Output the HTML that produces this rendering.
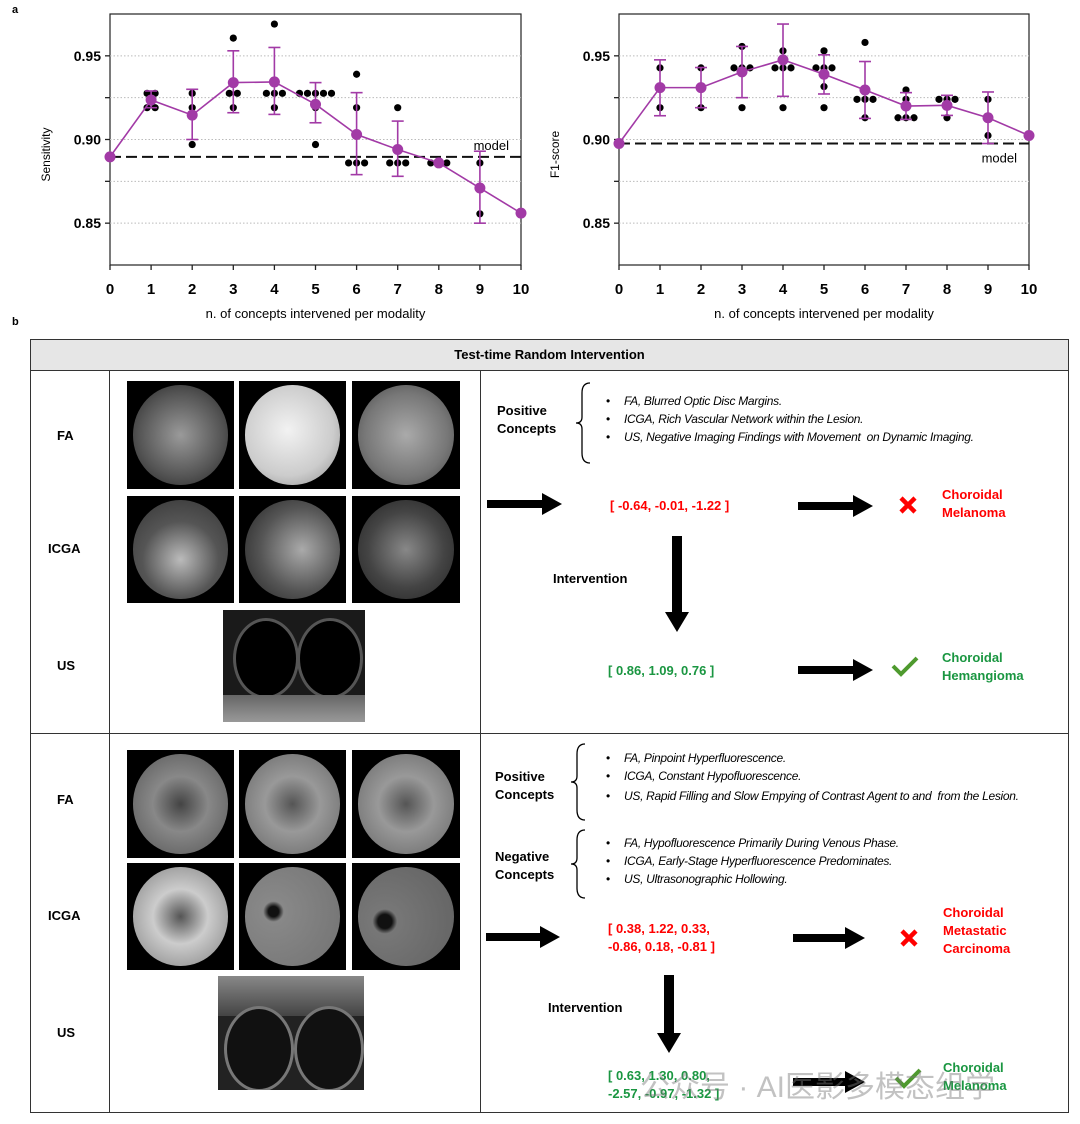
<!DOCTYPE html>
<html><head><meta charset="utf-8">
<style>
body{margin:0;background:#fff;font-family:"Liberation Sans",Arial,sans-serif;}
#page{position:relative;width:1080px;height:1124px;overflow:hidden;background:#fff;}
.abs{position:absolute;}
.img{position:absolute;background:#000;overflow:hidden;}
.img .c{position:absolute;left:6%;top:4%;width:88%;height:92%;border-radius:50%;}
.lbl{position:absolute;font-weight:bold;font-size:13px;}
.bl{position:absolute;font-style:italic;font-size:12px;letter-spacing:-0.3px;}
.bl:before{content:"•";position:absolute;left:-18px;font-style:normal;}
</style></head>
<body><div id="page">
<div class="abs" style="left:12px;top:4px;font-weight:bold;font-size:11px">a</div>
<div class="abs" style="left:12px;top:316px;font-weight:bold;font-size:11px">b</div>
<svg id="c1" class="abs" style="left:0;top:0" width="540" height="330"></svg>
<svg id="c2" class="abs" style="left:530px;top:0" width="550" height="330"></svg>

<div class="abs" style="left:30px;top:339px;width:1037px;height:772px;border:1px solid #333;"></div>
<div class="abs" style="left:31px;top:340px;width:1037px;height:30px;background:#e6e6e6;border-bottom:1px solid #333;text-align:center;line-height:30px;font-weight:bold;font-size:13px">Test-time Random Intervention</div>
<div class="abs" style="left:109px;top:371px;width:1px;height:741px;background:#333"></div>
<div class="abs" style="left:480px;top:371px;width:1px;height:741px;background:#333"></div>
<div class="abs" style="left:31px;top:733px;width:1037px;height:1px;background:#333"></div>

<div class="lbl" style="left:57px;top:428px">FA</div>
<div class="lbl" style="left:48px;top:541px">ICGA</div>
<div class="lbl" style="left:57px;top:658px">US</div>
<div class="lbl" style="left:57px;top:792px">FA</div>
<div class="lbl" style="left:48px;top:908px">ICGA</div>
<div class="lbl" style="left:57px;top:1025px">US</div>

<div class="img" style="left:127px;top:381px;width:107px;height:108px"><div class="c" style="background:radial-gradient(circle at 50% 50%,#9a9a9a,#555 60%,#222)"></div></div>
<div class="img" style="left:239px;top:381px;width:107px;height:108px"><div class="c" style="background:radial-gradient(circle at 45% 45%,#f2f2f2,#ccc 60%,#888)"></div></div>
<div class="img" style="left:352px;top:381px;width:108px;height:108px"><div class="c" style="background:radial-gradient(circle at 50% 50%,#aaa,#777 60%,#444)"></div></div>
<div class="img" style="left:127px;top:496px;width:107px;height:107px"><div class="c" style="background:radial-gradient(circle at 50% 60%,#bbb,#555 50%,#333)"></div></div>
<div class="img" style="left:239px;top:496px;width:107px;height:107px"><div class="c" style="background:radial-gradient(circle at 60% 50%,#aaa,#555 55%,#222)"></div></div>
<div class="img" style="left:352px;top:496px;width:108px;height:107px"><div class="c" style="background:radial-gradient(circle at 50% 50%,#888,#444 55%,#222)"></div></div>
<div class="abs" style="left:223px;top:610px;width:142px;height:112px;background:#1a1a1a;overflow:hidden">
<div class="abs" style="left:10px;top:8px;width:60px;height:75px;border-radius:50%;background:#000;border:3px solid #555"></div>
<div class="abs" style="left:74px;top:8px;width:60px;height:75px;border-radius:50%;background:#000;border:3px solid #555"></div>
<div class="abs" style="left:0;top:85px;width:142px;height:27px;background:linear-gradient(#666,#999)"></div></div>

<div class="img" style="left:127px;top:750px;width:107px;height:108px"><div class="c" style="background:radial-gradient(circle at 50% 50%,#444,#888 40%,#666 80%)"></div></div>
<div class="img" style="left:239px;top:750px;width:107px;height:108px"><div class="c" style="background:radial-gradient(circle at 50% 50%,#555,#999 40%,#777 80%)"></div></div>
<div class="img" style="left:352px;top:750px;width:108px;height:108px"><div class="c" style="background:radial-gradient(circle at 50% 50%,#555,#999 40%,#777 80%)"></div></div>
<div class="img" style="left:127px;top:863px;width:107px;height:107px"><div class="c" style="background:radial-gradient(circle at 50% 50%,#555,#ccc 40%,#999 80%)"></div></div>
<div class="img" style="left:239px;top:863px;width:107px;height:107px"><div class="c" style="background:radial-gradient(circle at 30% 45%,#111 6%,#888 12%,#777 80%)"></div></div>
<div class="img" style="left:352px;top:863px;width:108px;height:107px"><div class="c" style="background:radial-gradient(circle at 28% 55%,#111 8%,#777 14%,#666 80%)"></div></div>
<div class="abs" style="left:218px;top:976px;width:146px;height:114px;background:#222;overflow:hidden">
<div class="abs" style="left:0;top:0;width:146px;height:40px;background:linear-gradient(#888,#444)"></div>
<div class="abs" style="left:6px;top:30px;width:64px;height:80px;border-radius:50%;background:#111;border:3px solid #777"></div>
<div class="abs" style="left:76px;top:30px;width:64px;height:80px;border-radius:50%;background:#111;border:3px solid #777"></div></div>

<div class="lbl" style="left:497px;top:402px;line-height:18px">Positive<br>Concepts</div>
<div class="bl" style="left:624px;top:394px">FA, Blurred Optic Disc Margins.</div>
<div class="bl" style="left:624px;top:412px">ICGA, Rich Vascular Network within the Lesion.</div>
<div class="bl" style="left:624px;top:430px">US, Negative Imaging Findings with Movement&nbsp; on Dynamic Imaging.</div>
<div class="lbl" style="left:610px;top:498px;color:#f00">[ -0.64, -0.01, -1.22 ]</div>
<div class="lbl" style="left:942px;top:486px;color:#f00;line-height:18px">Choroidal<br>Melanoma</div>
<div class="lbl" style="left:553px;top:571px">Intervention</div>
<div class="lbl" style="left:608px;top:663px;color:#1a9641">[ 0.86, 1.09, 0.76 ]</div>
<div class="lbl" style="left:942px;top:649px;color:#1a9641;line-height:18px">Choroidal<br>Hemangioma</div>

<div class="lbl" style="left:495px;top:768px;line-height:18px">Positive<br>Concepts</div>
<div class="bl" style="left:624px;top:751px">FA, Pinpoint Hyperfluorescence.</div>
<div class="bl" style="left:624px;top:769px">ICGA, Constant Hypofluorescence.</div>
<div class="bl" style="left:624px;top:787px;width:400px;line-height:18px">US, Rapid Filling and Slow Empying of Contrast Agent to and&nbsp; from the Lesion.</div>
<div class="lbl" style="left:495px;top:848px;line-height:18px">Negative<br>Concepts</div>
<div class="bl" style="left:624px;top:836px">FA, Hypofluorescence Primarily During Venous Phase.</div>
<div class="bl" style="left:624px;top:854px">ICGA, Early-Stage Hyperfluorescence Predominates.</div>
<div class="bl" style="left:624px;top:872px">US, Ultrasonographic Hollowing.</div>
<div class="lbl" style="left:608px;top:920px;color:#f00;line-height:18px">[ 0.38, 1.22, 0.33,<br>-0.86, 0.18, -0.81 ]</div>
<div class="lbl" style="left:943px;top:904px;color:#f00;line-height:18px">Choroidal<br>Metastatic<br>Carcinoma</div>
<div class="lbl" style="left:548px;top:1000px">Intervention</div>
<div class="lbl" style="left:608px;top:1067px;color:#1a9641;line-height:18px">[ 0.63, 1.30, 0.80,<br>-2.57, -0.97, -1.32 ]</div>
<div class="lbl" style="left:943px;top:1059px;color:#1a9641;line-height:18px">Choroidal<br>Melanoma</div>

<svg class="abs" style="left:0;top:0" width="1080" height="1124">
<g fill="#000">
<path d="M487,500 h55 v-7 l20,11 l-20,11 v-7 h-55z"/>
<path d="M798,502 h55 v-7 l20,11 l-20,11 v-7 h-55z"/>
<path d="M672,536 h10 v76 h7 l-12,20 l-12,-20 h7z"/>
<path d="M798,666 h55 v-7 l20,11 l-20,11 v-7 h-55z"/>
<path d="M486,933 h54 v-7 l20,11 l-20,11 v-7 h-54z"/>
<path d="M793,934 h52 v-7 l20,11 l-20,11 v-7 h-52z"/>
<path d="M664,975 h10 v58 h7 l-12,20 l-12,-20 h7z"/>
<path d="M793,1078 h52 v-7 l20,11 l-20,11 v-7 h-52z"/>
</g>
<g fill="none" stroke="#000" stroke-width="1.3">
<path d="M590,383 q-8,0 -8,10 v24 q0,6 -6,6 q6,0 6,6 v24 q0,10 8,10"/>
<path d="M585,744 q-8,0 -8,10 v22 q0,6 -6,6 q6,0 6,6 v22 q0,10 8,10"/>
<path d="M585,830 q-8,0 -8,10 v18 q0,6 -6,6 q6,0 6,6 v18 q0,10 8,10"/>
</g>
<g stroke="#f00" stroke-width="4.5"><path d="M901,498 l14,14 M915,498 l-14,14"/><path d="M902,931 l14,14 M916,931 l-14,14"/></g>
<g stroke="#4e9a2e" stroke-width="4" fill="none"><path d="M893,666 l8,8 l16,-16"/><path d="M896,1078 l8,8 l16,-16"/></g>
</svg>
<div class="abs" style="left:640px;top:1062px;font-size:30px;color:rgba(120,120,120,0.45);font-family:'Liberation Sans','Noto Sans CJK SC',sans-serif">公众号 · AI医影多模态组学</div>
</div>
<script>
const xCats=[0,1,2,3,4,5,6,7,8,9,10];
const sensMean=[0.8896,0.9236,0.9146,0.934,0.9344,0.921,0.903,0.894,0.886,0.871,0.856];
const sensLo=[null,0.919,0.900,0.916,0.915,0.910,0.879,0.878,null,0.850,null];
const sensHi=[null,0.929,0.930,0.953,0.955,0.934,0.928,0.911,null,0.893,null];
const sensDots=[[],[0.9276,0.9276,0.919,0.919],[0.9276,0.919,0.897],[0.9606,0.9276,0.9276,0.919],[0.969,0.9276,0.9276,0.9276,0.919],[0.9276,0.9276,0.9276,0.9276,0.9276,0.919,0.897],[0.939,0.919,0.886,0.886,0.886],[0.919,0.886,0.886,0.886],[0.886,0.886,0.886],[0.886,0.8556],[]];
const sensModel=0.8896;
const f1Mean=[0.8976,0.931,0.931,0.9404,0.9476,0.939,0.9296,0.920,0.9204,0.913,0.9024];
const f1Lo=[null,0.9142,0.919,0.925,0.9258,0.9272,0.9126,0.912,0.9144,0.8976,null];
const f1Hi=[null,0.9476,0.943,0.9556,0.969,0.9506,0.9466,0.928,0.9264,0.9284,null];
const f1Dots=[[],[0.9428,0.919],[0.9428,0.919],[0.9556,0.9428,0.9428,0.9428,0.919],[0.953,0.9428,0.9428,0.9428,0.919],[0.953,0.9428,0.9428,0.9428,0.9316,0.919],[0.958,0.924,0.924,0.924,0.913],[0.9296,0.924,0.913,0.913,0.913],[0.924,0.924,0.924,0.913],[0.924,0.9024],[]];
const f1Model=0.8976;
const yTicks=[0.85,0.90,0.95];
const yGrid=[0.85,0.875,0.90,0.925,0.95];
const NS='http://www.w3.org/2000/svg';
function el(p,t,a,txt){const e=document.createElementNS(NS,t);for(const k in a)e.setAttribute(k,a[k]);if(txt!==undefined)e.textContent=txt;p.appendChild(e);return e;}
function draw(svg,L,R,mean,lo,hi,dots,model,ylab,modelDy,pre){
 const T=14,B=265,ymin=0.825,ymax=0.975;
 const X=v=>L+(v-0)/(10)*(R-L);
 const Y=v=>B-(v-ymin)/(ymax-ymin)*(B-T);
 el(svg,'rect',{x:L,y:T,width:R-L,height:B-T,fill:'none',stroke:'#222','stroke-width':1.2});
 yGrid.forEach(g=>{const l=el(svg,'line',{x1:L,x2:R,y1:Y(g),y2:Y(g),stroke:'#bbb','stroke-dasharray':'1.5,2','stroke-width':1});
  
  el(svg,'line',{x1:L-5,x2:L,y1:Y(g),y2:Y(g),stroke:'#222','stroke-width':1.3});});
 yTicks.forEach(t=>{const tx=el(svg,'text',{x:L-9,y:Y(t)+5,'text-anchor':'end','font-size':14,'font-weight':'bold'},t.toFixed(2));
  });
 xCats.forEach(c=>{el(svg,'line',{x1:X(c),x2:X(c),y1:B,y2:B+5,stroke:'#222','stroke-width':1.3});
  const tx=el(svg,'text',{x:X(c),y:B+29,'text-anchor':'middle','font-size':15,'font-weight':'bold'},String(c));
  });
 const xt=el(svg,'text',{x:(L+R)/2,y:B+53,'text-anchor':'middle','font-size':13},'n. of concepts intervened per modality');
 
 const yt=el(svg,'text',{x:0,y:0,'text-anchor':'middle','font-size':12,transform:`translate(${L-60},${(T+B)/2+15}) rotate(-90)`},ylab);
 
 const ml=el(svg,'line',{x1:L,x2:R,y1:Y(model),y2:Y(model),stroke:'#111','stroke-width':2,'stroke-dasharray':'11,5'});
 
 const mt=el(svg,'text',{x:R-12,y:Y(model)+modelDy,'text-anchor':'end','font-size':13},'model');
 
 dots.forEach((arr,i)=>{const groups={};arr.forEach(v=>{(groups[v]=groups[v]||[]).push(v);});
  Object.keys(groups).forEach(k=>{const n=groups[k].length;groups[k].forEach((v,j)=>{
   const c=el(svg,'circle',{cx:X(xCats[i])+(j-(n-1)/2)*8,cy:Y(v),r:3.6,fill:'#000'});
   });});});
 lo.forEach((l,i)=>{if(l===null)return;const x=X(xCats[i]);
  const g=el(svg,'g',{stroke:'#a23aa6','stroke-width':1.6});
  
  el(g,'line',{x1:x,x2:x,y1:Y(l),y2:Y(hi[i])});el(g,'line',{x1:x-6,x2:x+6,y1:Y(l),y2:Y(l)});el(g,'line',{x1:x-6,x2:x+6,y1:Y(hi[i]),y2:Y(hi[i])});});
 const pl=el(svg,'polyline',{points:mean.map((m,i)=>X(xCats[i])+','+Y(m)).join(' '),fill:'none',stroke:'#a23aa6','stroke-width':1.6});
 
 mean.forEach((m,i)=>{const c=el(svg,'circle',{cx:X(xCats[i]),cy:Y(m),r:5.5,fill:'#a23aa6'});
  });
}
draw(document.getElementById('c1'),110,521,sensMean,sensLo,sensHi,sensDots,sensModel,'Sensitivity',-7,'sensitivity');
draw(document.getElementById('c2'),89,499,f1Mean,f1Lo,f1Hi,f1Dots,f1Model,'F1-score',19,'f1');
</script>
</body></html>
